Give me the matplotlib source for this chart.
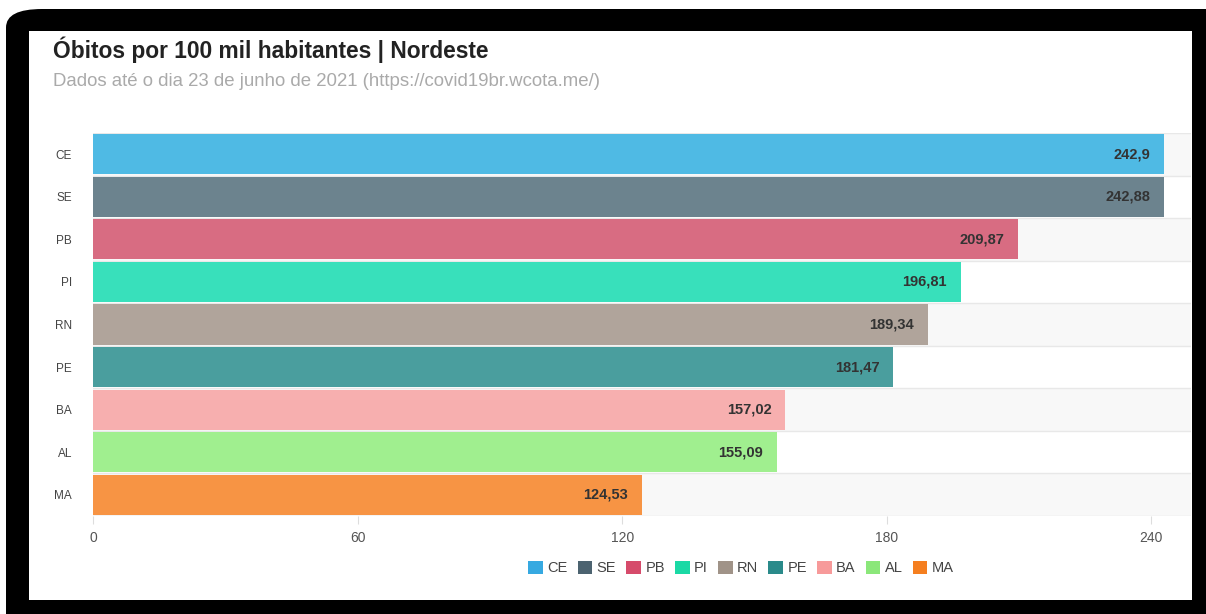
import matplotlib.pyplot as plt
from matplotlib.patches import FancyBboxPatch, Rectangle, Patch

plt.rcParams['font.family'] = ['Liberation Sans', 'DejaVu Sans']

estados = ['CE', 'SE', 'PB', 'PI', 'RN', 'PE', 'BA', 'AL', 'MA']
obitos = [242.9, 242.88, 209.87, 196.81, 189.34, 181.47, 157.02, 155.09, 124.53]
rotulos = ['242,9', '242,88', '209,87', '196,81', '189,34', '181,47', '157,02', '155,09', '124,53']
cores_barra = ['#4fbae4', '#6c838e', '#d86c82', '#38e0bb', '#b0a49b',
               '#4a9e9e', '#f7afaf', '#a0ef8f', '#f79444']
cores_legenda = ['#36a9e1', '#4c6370', '#d64b6b', '#1ad9a5', '#a09388',
                 '#2a8a8a', '#f79a9a', '#8be77a', '#f57f20']
ticks_x = [0, 60, 120, 180, 240]

W, H = 1206, 614
fig = plt.figure(figsize=(W / 100, H / 100), dpi=100)
fig.patch.set_facecolor('white')

# black frame with rounded corner, then the white chart panel
fig.patches.append(FancyBboxPatch((6 / W, -0.1), 1.2, (H - 9) / H + 0.1,
                                  boxstyle='round,pad=0,rounding_size=0.03',
                                  transform=fig.transFigure, facecolor='black',
                                  edgecolor='none', zorder=0))
fig.patches.append(Rectangle((29 / W, (H - 600) / H), (1192 - 29) / W, (600 - 31) / H,
                             transform=fig.transFigure, facecolor='white',
                             edgecolor='none', zorder=1))

ax = fig.add_axes([93 / W, (H - 516) / H, (1191 - 93) / W, (516 - 133) / H])
ax.set_zorder(2)
ax.patch.set_alpha(0)

n = len(estados)
for i in range(n):
    if i % 2 == 0:
        ax.axhspan(i - 0.5, i + 0.5, color='#f8f8f8', zorder=0, lw=0)
for i in range(n + 1):
    ax.axhline(i - 0.5, color='#e8e8e8', lw=1, zorder=0.5)

ax.barh(range(n), obitos, height=0.94, color=cores_barra, zorder=2)
for i, (v, r) in enumerate(zip(obitos, rotulos)):
    ax.annotate(r, (v, i), xytext=(-10, 0), textcoords='offset points',
                ha='right', va='center', fontsize=10.5, fontweight='bold',
                color='#333333', zorder=3)

ax.set_xlim(0, 249)
ax.set_ylim(n - 0.5, -0.5)
ax.set_yticks(range(n))
ax.set_yticklabels(estados, fontsize=8.5, color='#444444')
ax.set_xticks(ticks_x)
ax.set_xticklabels([str(t) for t in ticks_x], fontsize=10, color='#555555')
ax.tick_params(axis='y', length=0, pad=15)
ax.tick_params(axis='x', length=6, color='#dddddd', pad=5)
for s in ax.spines.values():
    s.set_visible(False)

fig.text(53 / W, 1 - 50 / H, 'Óbitos por 100 mil habitantes | Nordeste',
         fontsize=16.4, fontweight='bold', color='#222222', va='center', zorder=3)
fig.text(53 / W, 1 - 82 / H, 'Dados até o dia 23 de junho de 2021 (https://covid19br.wcota.me/)',
         fontsize=13.4, color='#aaaaaa', va='center', zorder=3)

handles = [Patch(facecolor=c, edgecolor='none') for c in cores_legenda]
leg = fig.legend(handles, estados, loc='center', bbox_to_anchor=(741 / W, 1 - 568 / H),
                 ncol=n, frameon=False, fontsize=10.5, handlelength=1.0, handleheight=1.0,
                 handletextpad=0.3, columnspacing=0.7, labelcolor='#444444')
leg.set_zorder(3)

fig.savefig('out.png', dpi=100, facecolor=fig.get_facecolor())
